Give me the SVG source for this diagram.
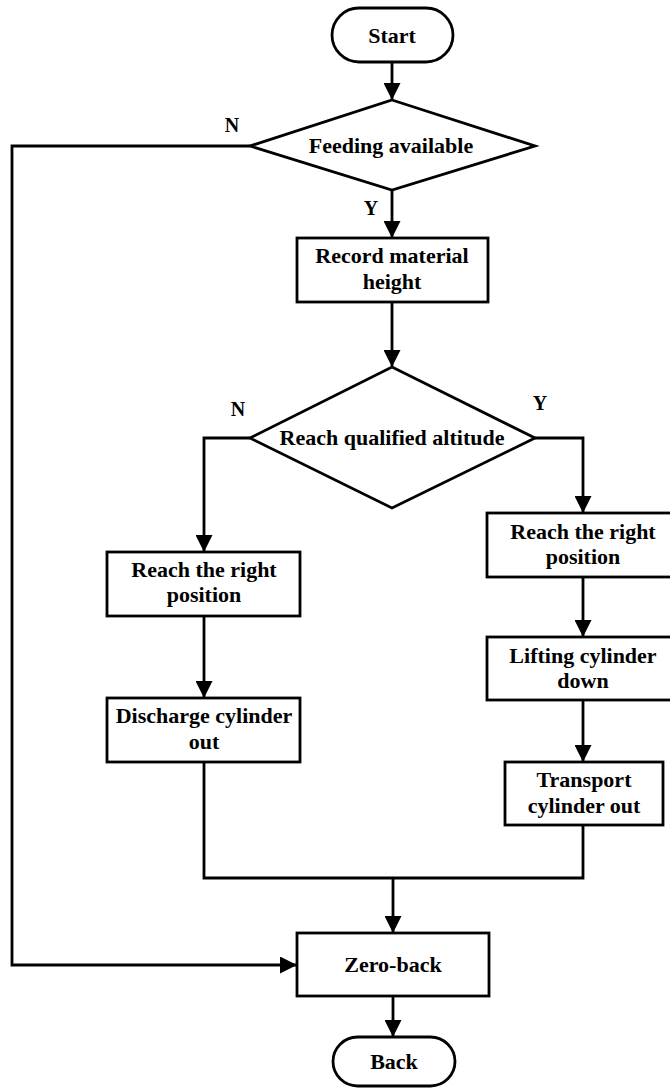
<svg xmlns="http://www.w3.org/2000/svg" width="670" height="1088" viewBox="0 0 670 1088">
<style>
.s{fill:#fff;stroke:#000;stroke-width:2.8}
.t{font-family:"Liberation Serif","Times New Roman",serif;font-weight:bold;font-size:22px;fill:#000;text-anchor:middle}
.l{font-family:"Liberation Serif","Times New Roman",serif;font-weight:bold;font-size:20px;fill:#000;text-anchor:middle}
.c{fill:none;stroke:#000;stroke-width:2.8}
</style>
<defs>
<marker id="a" markerUnits="userSpaceOnUse" markerWidth="16" markerHeight="17" refX="17" refY="8.5" orient="auto">
<path d="M0,0 L17,8.5 L0,17 z" fill="#000"/>
</marker>
</defs>
<rect width="670" height="1088" fill="#fff"/>
<g id="connectors">
<path class="c" d="M392,62 V100" marker-end="url(#a)"/>
<path class="c" d="M392,190 V238" marker-end="url(#a)"/>
<path class="c" d="M392,302 V367" marker-end="url(#a)"/>
<path class="c" d="M250,438 H204 V552" marker-end="url(#a)"/>
<path class="c" d="M204,616 V698" marker-end="url(#a)"/>
<path class="c" d="M204,762 V878 H583 V825"/>
<path class="c" d="M393,878 V933" marker-end="url(#a)"/>
<path class="c" d="M535,438 H583 V513" marker-end="url(#a)"/>
<path class="c" d="M583,577 V637" marker-end="url(#a)"/>
<path class="c" d="M583,700 V762" marker-end="url(#a)"/>
<path class="c" d="M250,146 H12 V965 H297" marker-end="url(#a)"/>
<path class="c" d="M393,996 V1037" marker-end="url(#a)"/>
<text class="l" x="232" y="132">N</text>
<text class="l" x="371" y="215">Y</text>
<text class="l" x="238" y="416">N</text>
<text class="l" x="540" y="410">Y</text>
</g>
<g id="start">
<rect class="s" x="332" y="8" width="121" height="54" rx="27"/>
<text class="t" x="392" y="43">Start</text>
</g>
<g id="feeding">
<path class="s" d="M392,100 L535,146 L392,190 L250,146 z"/>
<text class="t" x="391" y="153">Feeding available</text>
</g>
<g id="record">
<rect class="s" x="297" y="238" width="191" height="64"/>
<text class="t" x="392" y="263">Record material</text>
<text class="t" x="392" y="289">height</text>
</g>
<g id="qualified">
<path class="s" d="M392,367 L535,438 L392,508 L250,438 z"/>
<text class="t" x="392" y="445">Reach qualified altitude</text>
</g>
<g id="left-position">
<rect class="s" x="107" y="552" width="193" height="64"/>
<text class="t" x="204" y="577">Reach the right</text>
<text class="t" x="204" y="602">position</text>
</g>
<g id="discharge">
<rect class="s" x="107" y="698" width="193" height="64"/>
<text class="t" x="204" y="723">Discharge cylinder</text>
<text class="t" x="204" y="749">out</text>
</g>
<g id="right-position">
<rect class="s" x="487" y="513" width="193" height="64"/>
<text class="t" x="583" y="539">Reach the right</text>
<text class="t" x="583" y="564">position</text>
</g>
<g id="lifting">
<rect class="s" x="487" y="637" width="193" height="63"/>
<text class="t" x="583" y="663">Lifting cylinder</text>
<text class="t" x="583" y="688">down</text>
</g>
<g id="transport">
<rect class="s" x="505" y="762" width="158" height="63"/>
<text class="t" x="584" y="787">Transport</text>
<text class="t" x="584" y="813">cylinder out</text>
</g>
<g id="zero-back">
<rect class="s" x="297" y="933" width="192" height="63"/>
<text class="t" x="393" y="972">Zero-back</text>
</g>
<g id="back">
<rect class="s" x="333" y="1037" width="122" height="49" rx="24.5"/>
<text class="t" x="394" y="1069">Back</text>
</g>
</svg>
